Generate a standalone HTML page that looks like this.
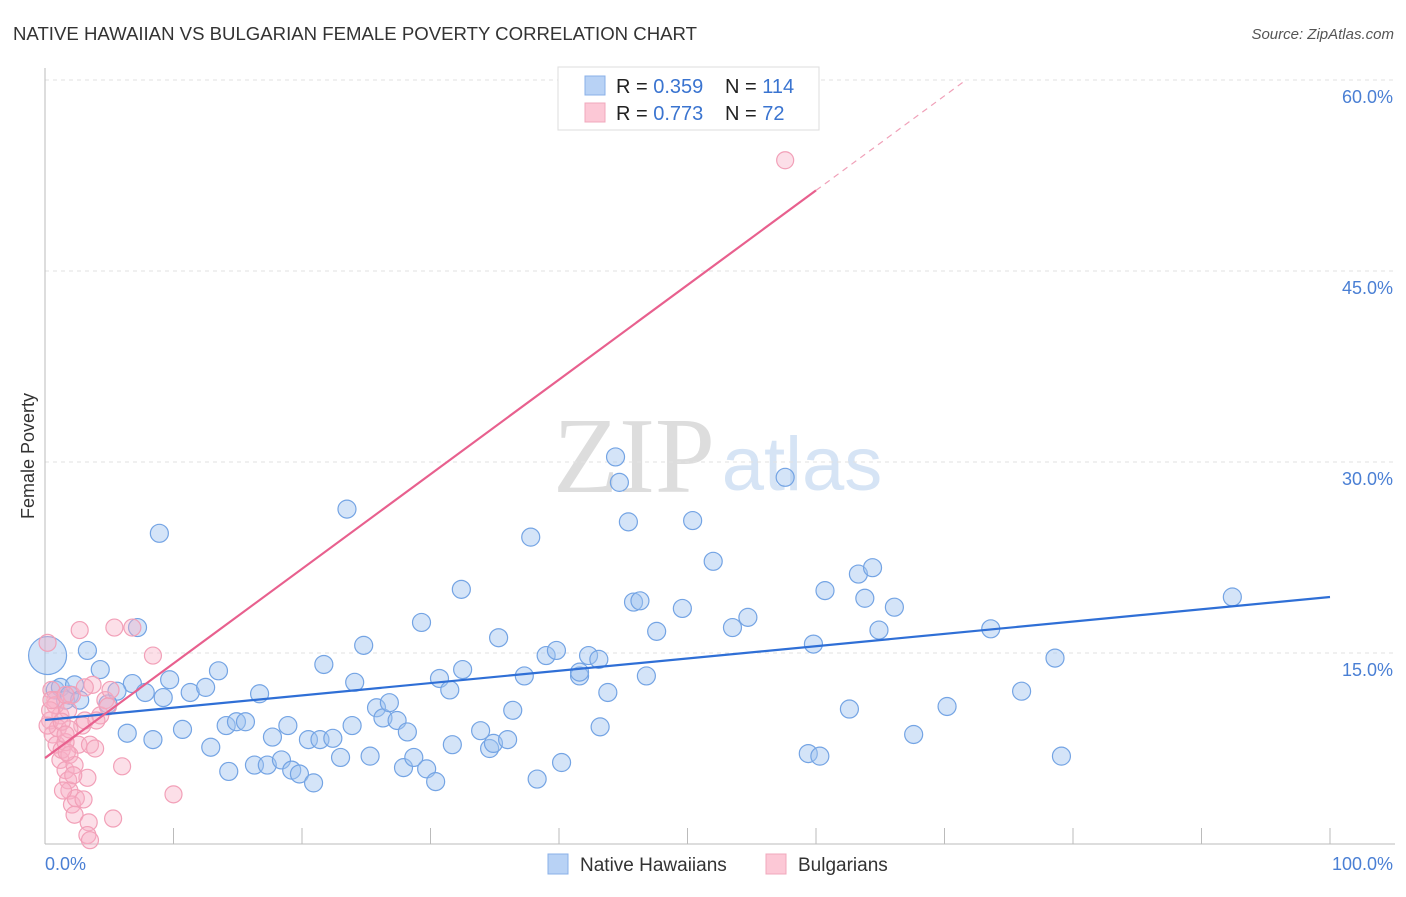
<!DOCTYPE html>
<html><head><meta charset="utf-8"><style>
body{margin:0;background:#fff;font-family:"Liberation Sans",sans-serif}
</style></head><body>
<svg width="1406" height="892" xmlns="http://www.w3.org/2000/svg" style="font-family:'Liberation Sans',sans-serif">
<text x="13" y="40" font-size="18.6" fill="#333">NATIVE HAWAIIAN VS BULGARIAN FEMALE POVERTY CORRELATION CHART</text>
<text x="1394" y="39" font-size="15" fill="#555" font-style="italic" text-anchor="end">Source: ZipAtlas.com</text>
<text x="634" y="492" font-size="108" fill="#ddd" font-family="Liberation Serif" text-anchor="middle">ZIP</text>
<text x="802" y="490" font-size="76" fill="#d6e4f5" text-anchor="middle">atlas</text>
<g id="grid"></g>
<g id="axes"></g>
<g id="pts"></g>
<g id="lines"></g>
<text x="34" y="456" font-size="18" fill="#333" transform="rotate(-90 34 456)" text-anchor="middle">Female Poverty</text>
<text x="45" y="870" font-size="18" fill="#4a7fd4">0.0%</text>
<text x="1393" y="870" font-size="18" fill="#4a7fd4" text-anchor="end">100.0%</text>
<g>
<rect x="558" y="67" width="261" height="63" fill="#fff" stroke="#ddd"/>
<rect x="585" y="76" width="20" height="19" fill="#b8d2f5" stroke="#8ab0e8"/>
<rect x="585" y="103" width="20" height="19" fill="#fcc8d6" stroke="#f0a8bc"/>
<text x="616" y="93" font-size="20" fill="#222">R = <tspan fill="#3a74d0">0.359</tspan></text>
<text x="725" y="93" font-size="20" fill="#222">N = <tspan fill="#3a74d0">114</tspan></text>
<text x="616" y="120" font-size="20" fill="#222">R = <tspan fill="#3a74d0">0.773</tspan></text>
<text x="725" y="120" font-size="20" fill="#222">N = <tspan fill="#3a74d0"> 72</tspan></text>
</g>
<g>
<rect x="548" y="854" width="20" height="20" fill="#b8d2f5" stroke="#8ab0e8"/>
<text x="580" y="871" font-size="19" fill="#333">Native Hawaiians</text>
<rect x="766" y="854" width="20" height="20" fill="#fcc8d6" stroke="#f0a8bc"/>
<text x="798" y="871" font-size="19" fill="#333">Bulgarians</text>
</g>
</svg>
<script>
const yTicks=[15,30,45,60];
const yTickLabels=["15.0%","30.0%","45.0%","60.0%"];
const xTicks=[0,10,20,30,40,50,60,70,80,90,100];
const blueX=[8.9,3.3,4.3,7.2,6.8,7.8,5.6,4.9,6.4,8.4,9.2,10.7,9.7,11.3,12.5,13.5,12.9,14.3,14.1,14.9,15.6,16.7,16.3,17.3,17.7,18.4,18.9,19.2,19.8,20.9,20.5,21.4,21.7,22.4,23.0,23.5,23.9,24.1,24.8,25.3,25.8,26.3,26.8,27.4,27.9,28.2,28.7,29.3,29.7,30.4,30.7,31.5,31.7,32.4,32.5,33.9,34.6,34.9,35.3,36.0,36.4,37.3,37.8,38.3,39.0,39.8,40.2,41.6,41.6,42.3,43.1,43.2,43.8,44.4,44.7,45.4,45.8,46.3,46.8,47.6,49.6,50.4,52.0,53.5,54.7,57.6,59.4,59.8,60.3,60.7,62.6,63.3,63.8,64.4,64.9,66.1,67.6,70.2,73.6,76.0,78.6,79.1,92.4,0.8,1.2,1.6,1.9,2.3,2.7];
const blueY=[24.4,15.2,13.7,17.0,12.6,11.9,12.0,11.0,8.7,8.2,11.5,9.0,12.9,11.9,12.3,13.6,7.6,5.7,9.3,9.6,9.6,11.8,6.2,6.2,8.4,6.6,9.3,5.8,5.5,4.8,8.2,8.2,14.1,8.3,6.8,26.3,9.3,12.7,15.6,6.9,10.7,9.9,11.1,9.7,6.0,8.8,6.8,17.4,5.9,4.9,13.0,12.1,7.8,20.0,13.7,8.9,7.5,7.9,16.2,8.2,10.5,13.2,24.1,5.1,14.8,15.2,6.4,13.2,13.5,14.8,14.5,9.2,11.9,30.4,28.4,25.3,19.0,19.1,13.2,16.7,18.5,25.4,22.2,17.0,17.8,28.8,7.1,15.7,6.9,19.9,10.6,21.2,19.3,21.7,16.8,18.6,8.6,10.8,16.9,12.0,14.6,6.9,19.4,12.1,12.3,11.3,11.7,12.5,11.3];
const pinkX=[0.2,0.5,0.8,0.4,0.6,0.9,1.2,1.3,1.6,1.8,1.9,2.1,2.3,2.6,2.9,3.1,3.5,3.9,4.3,4.7,4.9,5.1,2.7,5.4,6.8,8.4,6.0,10.0,5.3,3.4,3.3,3.5,57.6,2.1,1.2,1.0,1.6,1.9,2.3,2.4,3.0,3.3,1.4,0.8,0.4,0.2,0.5,1.6,1.8,1.9,1.3,4.0,3.7,3.1,1.7,2.2,1.6];
const pinkY=[15.8,12.1,11.3,9.7,8.6,7.8,6.6,7.4,5.8,5.0,4.2,3.1,2.3,7.8,9.3,9.7,7.8,7.5,10.1,11.3,10.8,12.1,16.8,17.0,17.0,14.8,6.1,3.9,2.0,1.7,0.7,0.3,53.7,11.7,10.1,9.1,8.0,7.0,6.2,3.6,3.5,5.2,4.2,10.9,10.5,9.3,11.3,11.7,10.5,9.0,9.6,9.7,12.5,12.3,7.2,5.4,8.6];
const blueFit=[9.74,19.4];
const pinkFit=[6.75,0.743];
const X=v=>45+v*12.85, Y=v=>844-v*12.733;
const NS="http://www.w3.org/2000/svg";
function mk(tag,attrs,parent){const e=document.createElementNS(NS,tag);for(const k in attrs)e.setAttribute(k,attrs[k]);document.getElementById(parent).appendChild(e);return e;}
yTicks.forEach((t,i)=>{
 const g=mk('line',{x1:45,x2:1395,y1:Y(t),y2:Y(t),stroke:'#e2e2e2','stroke-dasharray':'4,4'},'grid');
 
 
 const tx=mk('text',{x:1393,y:Y(t)+23,'font-size':18,fill:'#4a7fd4','text-anchor':'end'},'grid');
 tx.textContent=yTickLabels[i];
 
 
});
let a=mk('line',{x1:45,x2:45,y1:68,y2:844,stroke:'#bbb'},'axes');


a=mk('line',{x1:45,x2:1395,y1:844,y2:844,stroke:'#bbb'},'axes');


xTicks.forEach(t=>{const l=mk('line',{x1:X(t),x2:X(t),y1:828,y2:844,stroke:'#bbb'},'axes');
 
 });
blueX.forEach((x,i)=>{const c=mk('circle',{cx:X(x),cy:Y(blueY[i]),r:9,fill:'rgba(160,195,240,0.45)',stroke:'#74a4e4','stroke-width':1.2},'pts');
 
 });
let big=mk('circle',{cx:X(0.2),cy:Y(14.8),r:19,fill:'rgba(160,195,240,0.45)',stroke:'#74a4e4','stroke-width':1.2},'pts');


pinkX.forEach((x,i)=>{const c=mk('circle',{cx:X(x),cy:Y(pinkY[i]),r:8.5,fill:'rgba(248,175,198,0.4)',stroke:'#f2a0b8','stroke-width':1.2},'pts');
 
 });
let l=mk('line',{x1:X(0),y1:Y(blueFit[0]),x2:X(100),y2:Y(blueFit[1]),stroke:'#2f6fd6','stroke-width':2.2},'lines');


l=mk('line',{x1:X(0),y1:Y(pinkFit[0]),x2:X(60),y2:Y(pinkFit[0]+60*pinkFit[1]),stroke:'#e8608e','stroke-width':2.2},'lines');


l=mk('line',{x1:X(60),y1:Y(pinkFit[0]+60*pinkFit[1]),x2:X(71.6),y2:Y(pinkFit[0]+71.6*pinkFit[1]),stroke:'#f0a0b8','stroke-width':1.2,'stroke-dasharray':'6,5'},'lines');


</script>
</body></html>
